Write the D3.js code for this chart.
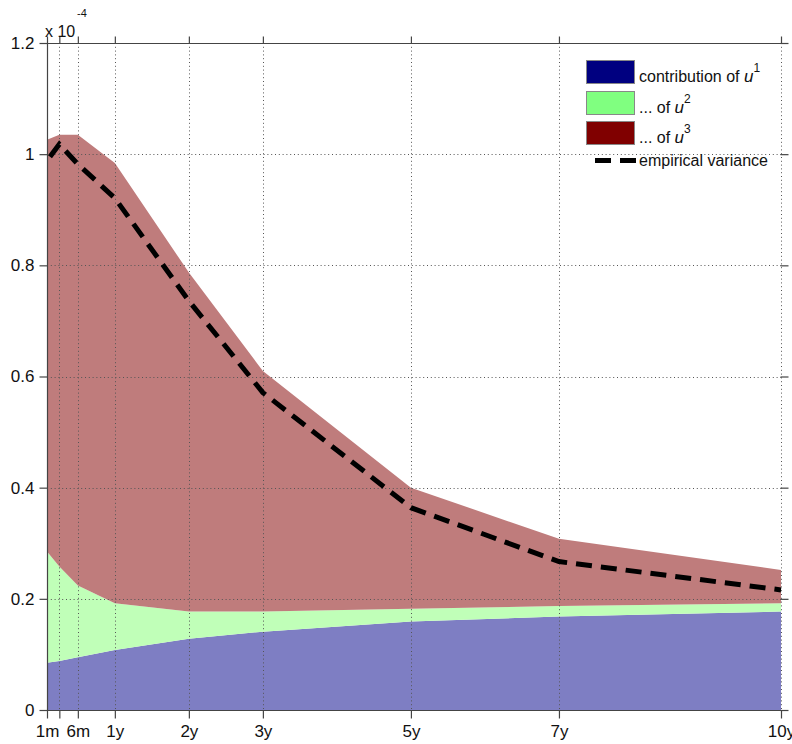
<!DOCTYPE html>
<html><head><meta charset="utf-8">
<script src="https://cdn.jsdelivr.net/npm/d3@7"></script>
<style>body{margin:0;background:#fff}svg{display:block}text{font-family:"Liberation Sans",Arial,sans-serif}</style>
</head><body>
<script>
// maturities in years
const tenors = [1/12, 0.25, 0.5, 1, 2, 3, 5, 7, 10];
const tickLabels = ["1m", "", "6m", "1y", "2y", "3y", "5y", "7y", "10y"];
const yTicks = [0, 0.2, 0.4, 0.6, 0.8, 1, 1.2];
const yTickLabels = ["0", "0.2", "0.4", "0.6", "0.8", "1", "1.2"];
// variance contributions (x 1e-4)
const u1 = [0.085, 0.088, 0.095, 0.108, 0.128, 0.141, 0.159, 0.168, 0.177];
const u2 = [0.200, 0.170, 0.129, 0.084, 0.049, 0.036, 0.023, 0.019, 0.015];
const u3 = [0.741, 0.777, 0.811, 0.792, 0.610, 0.433, 0.218, 0.121, 0.060];
const empirical = [0.988, 1.018, 0.982, 0.921, 0.736, 0.571, 0.364, 0.267, 0.216];
const seriesNames = ["u1", "u2", "u3"];
const fillColors = ["#7e7ec3", "#c0ffb8", "#bf7c7c"];
const legendColors = ["#000080", "#80ff80", "#800000"];

const W = 792, H = 744;
const svg = d3.select("body").append("svg").attr("width", W).attr("height", H);
const x = d3.scaleLinear().domain([1/12, 10]).range([47, 781]);
const y = d3.scaleLinear().domain([0, 1.2]).range([710, 43]);

const rows = tenors.map((t, i) => ({t, u1: u1[i], u2: u2[i], u3: u3[i]}));
const stack = d3.stack().keys(seriesNames)(rows);
const area = d3.area().x(d => x(d.data.t)).y0(d => y(d[0])).y1(d => y(d[1]));
svg.append("g").selectAll("path").data(stack).join("path")
  .attr("d", area).attr("fill", (d, i) => fillColors[i]);

// grid
const grid = svg.append("g").attr("stroke", "#555").attr("stroke-width", 1).attr("stroke-dasharray", "1,2.8");
grid.selectAll(".gx").data(tenors).join("line")
  .attr("x1", d => Math.round(x(d)) + 0.5).attr("x2", d => Math.round(x(d)) + 0.5)
  .attr("y1", 43).attr("y2", 710);
grid.selectAll(".gy").data(yTicks.slice(1, -1)).join("line")
  .attr("y1", d => Math.round(y(d)) + 0.5).attr("y2", d => Math.round(y(d)) + 0.5)
  .attr("x1", 47).attr("x2", 781);

// empirical variance
const line = d3.line().x((d, i) => x(tenors[i])).y(d => y(d));
svg.append("path").datum(empirical).attr("d", line)
  .attr("fill", "none").attr("stroke", "#000").attr("stroke-width", 5)
  .attr("stroke-dasharray", "16,9").attr("stroke-dashoffset", -5);

// axes
const ax = svg.append("g").attr("stroke", "#444").attr("stroke-width", 1.2).attr("fill", "none");
ax.append("line").attr("x1", 47.5).attr("x2", 47.5).attr("y1", 43).attr("y2", 710.5);
ax.append("line").attr("x1", 47).attr("x2", 784).attr("y1", 710.5).attr("y2", 710.5);
ax.append("line").attr("x1", 47).attr("x2", 788).attr("y1", 43.5).attr("y2", 43.5);

const xAxisB = d3.axisBottom(x).tickValues(tenors).tickFormat((d, i) => tickLabels[i]).tickSizeOuter(0).tickSizeInner(8).tickPadding(6);
const gB = svg.append("g").attr("transform", "translate(0,710.5)").call(xAxisB);
gB.select(".domain").remove();
const xAxisT = d3.axisTop(x).tickValues(tenors).tickFormat("").tickSizeOuter(0).tickSizeInner(7);
const gT = svg.append("g").attr("transform", "translate(0,43.5)").call(xAxisT);
gT.select(".domain").remove();
const yAxisL = d3.axisLeft(y).tickValues(yTicks).tickFormat((d, i) => yTickLabels[i]).tickSizeOuter(0).tickSizeInner(8).tickPadding(5);
const gL = svg.append("g").attr("transform", "translate(47.5,0)").call(yAxisL);
gL.select(".domain").remove();
const yAxisR = d3.axisRight(y).tickValues(yTicks).tickFormat("").tickSizeOuter(0).tickSizeInner(8);
const gR = svg.append("g").attr("transform", "translate(780.5,0)").call(yAxisR);
gR.select(".domain").remove();
[gB, gT, gL, gR].forEach(g => {
  g.selectAll(".tick line").attr("stroke", "#444").attr("stroke-width", 1.2);
  g.selectAll("text").attr("font-size", 17).attr("fill", "#111").attr("font-family", "Liberation Sans, Arial, sans-serif");
});

// exponent
svg.append("text").attr("x", 45).attr("y", 37).attr("font-size", 16).attr("fill", "#111").text("x 10");
svg.append("text").attr("x", 77).attr("y", 17).attr("font-size", 11).attr("fill", "#111").text("-4");

// legend
const lg = svg.append("g");
const legendTexts = [["contribution of ", "1"], ["... of ", "2"], ["... of ", "3"]];
const swY = [60, 91, 121];
legendTexts.forEach((lt, i) => {
  lg.append("rect").attr("x", 586.5).attr("y", swY[i] + 0.5).attr("width", 48).attr("height", 23)
    .attr("fill", legendColors[i]).attr("stroke", "#888").attr("stroke-width", 1);
  const t = lg.append("text").attr("x", 639).attr("y", swY[i] + 22).attr("font-size", 16).attr("fill", "#111");
  t.append("tspan").text(lt[0]);
  t.append("tspan").attr("font-style", "italic").attr("font-size", 17).text("u");
  t.append("tspan").attr("font-size", 12).attr("dy", -10).text(lt[1]);
});
lg.append("line").attr("x1", 595).attr("x2", 636).attr("y1", 160.5).attr("y2", 160.5)
  .attr("stroke", "#000").attr("stroke-width", 5).attr("stroke-dasharray", "16,9");
lg.append("text").attr("x", 639).attr("y", 166).attr("font-size", 16).attr("fill", "#111").text("empirical variance");
</script>
</body></html>
